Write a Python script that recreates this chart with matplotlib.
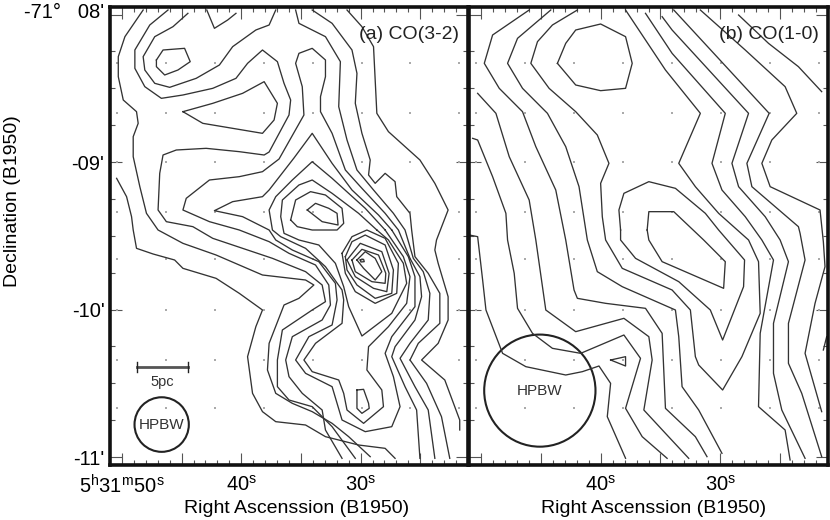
import matplotlib
matplotlib.use("Agg")
import matplotlib.pyplot as plt
from matplotlib.patches import Ellipse
from matplotlib.transforms import ScaledTranslation
import numpy as np

plt.rcParams["font.family"] = ["Liberation Sans", "DejaVu Sans"]
plt.rcParams["mathtext.fontset"] = "custom"
plt.rcParams["mathtext.rm"] = "Liberation Sans"

# Contours, in trace units (3 units = 1 pixel)
# panel (a), CO(3-2)
a_contours = [
    [(50,535),(80,590),(95,650),(100,690),(110,745),(160,762),(225,780),(250,805),(350,835),(420,880),(490,930),(470,980),(445,1070),(460,1180),(490,1235),(530,1265),(620,1275),(680,1310),(780,1335),(860,1345),(890,1375)],
    [(130,30),(75,110),(55,170),(55,230),(70,300),(110,335),(115,370),(100,410),(100,470),(120,560),(140,640),(175,690),(250,730),(350,765),(490,825),(620,840),(645,855),(600,895),(555,915),(510,1030),(505,1110),(530,1180),(580,1210),(640,1235),(700,1270),(750,1310),(815,1370)],
    [(205,30),(150,75),(105,150),(105,205),(135,260),(185,295),(250,285),(340,265),(410,235),(445,190),(490,150),(535,185),(555,250),(575,300),(570,345),(510,456),(495,465),(420,455),(320,445),(230,450),(190,465),(180,520),(175,630),(200,665),(280,680),(340,715),(430,745),(520,775),(620,815),(670,855),(680,905),(640,930),(550,990),(535,1080),(535,1160),(570,1200),(640,1220),(700,1280),(770,1375)],
    [(265,40),(220,80),(165,110),(130,170),(135,210),(165,250),(210,262),(290,235),(360,195),(400,140),(470,90),(510,75),(530,30)],
    [(170,180),(190,150),(255,145),(272,185),(235,210),(195,225),(170,200),(170,180)],
    [(322,30),(345,85),(385,60),(410,40)],
    [(250,335),(340,310),(430,280),(495,245),(535,310),(525,360),(490,400),(400,385),(310,370),(250,335)],
    # finger, left lobe, down to the bottom edge on both sides
    [(730,1375),(680,1290),(670,1230),(610,1180),(570,1130),(560,1080),(580,1010),(670,960),(695,915),(690,855),(650,795),(570,760),(510,725),(420,690),(330,665),(250,630),(260,595),(330,540),(420,530),(490,515),(540,477),(615,345),(610,260),(590,190),(600,160),(640,145),(680,180),(680,230),(665,290),(665,335),(700,400),(740,510),(790,565),(860,640),(900,690),(935,775),(965,830),(970,890),(950,960),(890,1040),(880,1070),(920,1160),(955,1230),(965,1375)],
    # closed around the lower peak
    [(880,690),(930,770),(950,830),(950,920),(880,1010),(860,1060),(885,1130),(905,1220),(880,1280),(800,1295),(730,1260),(700,1160),(620,1120),(590,1080),(630,1010),(700,975),(715,900),(710,850),(660,785),(580,750),(530,720),(510,690),(430,650),(345,632),(400,605),(490,590),(510,570),(585,474),(640,400),(700,490),(760,570),(840,645),(880,690)],
    [(860,690),(915,770),(935,830),(925,910),(870,980),(810,1040),(805,1110),(850,1170),(855,1220),(795,1270),(745,1230),(735,1180),(720,1140),(640,1115),(615,1080),(650,1030),(730,970),(735,900),(730,870),(680,800),(620,745),(545,710),(520,690),(510,630),(530,590),(580,540),(640,485),(700,535),(800,625),(860,690)],
    [(835,690),(780,640),(700,580),(640,540),(600,555),(550,600),(545,650),(555,700),(600,720),(660,735),(710,790),(735,860),(750,920),(790,1008),(880,940),(925,850),(915,790),(870,720),(835,690)],
    [(575,660),(590,600),(635,575),(680,585),(730,625),(735,670),(715,690),(640,690),(595,680),(575,660)],
    [(625,630),(650,610),(690,625),(715,640),(718,675),(670,665),(625,630)],
    [(745,30),(790,80),(825,140),(835,340),(870,395),(965,480),(1010,550),(1050,630),(1015,720),(1010,750),(1020,790),(1050,890),(1050,960),(1020,1030),(970,1080),(1040,1140),(1085,1260),(1085,1290)],
    [(640,30),(700,70),(760,150),(775,220),(770,310),(790,400),(815,480),(810,525),(830,550),(860,520),(890,545),(895,590),(935,640),(940,690),(950,770),(990,820),(1025,880),(1025,970),(960,1030),(935,1080),(985,1150),(1030,1250),(1055,1375)],
    [(590,30),(600,70),(680,110),(725,185),(720,320),(745,420),(775,510),(825,570),(885,640),(920,690),(945,775),(975,815),(995,880),(990,960),(935,1030),(905,1075),(950,1160),(990,1230),(1010,1375)],
    [(775,780),(800,755),(830,775),(850,815),(830,840),(795,805),(775,780)],
    [(760,780),(790,748),(840,765),(862,820),(860,850),(820,845),(770,815),(760,780)],
    [(745,780),(785,730),(850,755),(872,820),(865,875),(825,865),(770,830),(745,780)],
    [(740,770),(760,725),(800,705),(860,735),(885,810),(880,880),(830,895),(775,855),(745,810),(740,770)],
    [(730,760),(760,710),(805,690),(860,715),(900,790),(895,880),(830,910),(770,875),(740,820),(730,760)],
    [(775,1170),(795,1168),(810,1210),(812,1225),(790,1240),(775,1225),(775,1170)],
    [(785,780),(795,778),(797,785),(787,786),(785,780)],
]

# panel (b), CO(1-0)
b_contours = [
    [(275,190),(300,130),(330,90),(405,72),(480,110),(500,190),(480,265),(405,272),(330,255),(275,190)],
    [(545,690),(550,635),(625,635),(715,720),(780,785),(775,865),(590,785),(550,720),(545,690)],
    [(335,30),(260,75),(215,125),(195,190),(250,265),(330,335),(395,405),(430,490),(405,550),(410,650),(420,720),(470,805),(620,870),(675,930),(690,1070),(700,1095),(772,1170),(830,1070),(885,940),(880,785),(850,720),(760,640),(690,560),(640,490),(705,340),(600,210),(560,150),(480,30)],
    [(465,690),(460,630),(475,580),(550,545),(630,565),(720,640),(760,690),(838,780),(835,860),(772,1020),(735,930),(640,845),(510,775),(465,720),(465,690)],
    [(255,30),(155,115),(125,190),(170,265),(245,340),(300,440),(340,560),(365,720),(395,815),(470,860),(630,930),(640,1010),(650,1160),(700,1230),(770,1360)],
    [(540,40),(620,160),(780,340),(740,490),(770,570),(840,650),(890,720),(925,780),(885,1000),(880,1220),(960,1290),(975,1380)],
    [(590,50),(620,90),(850,340),(800,490),(820,560),(900,650),(945,720),(970,785),(925,970),(925,1120),(950,1230),(1020,1375)],
    [(625,30),(912,340),(845,490),(860,560),(1000,680),(1005,700),(1020,780),(970,970),(970,1090),(1010,1180),(1070,1370)],
    [(705,30),(840,150),(960,260),(995,340),(920,420),(890,490),(915,560),(1065,630),(1075,725),(1080,800),(1050,910),(1020,1060),(1070,1235)],
    [(820,45),(910,130),(1000,200),(1070,275)],
    [(1075,1050),(1085,1010)],
    [(20,415),(35,420),(80,530),(120,640),(125,720),(145,820),(155,925),(200,1000),(260,1045),(345,1060),(475,1005),(525,1075),(480,1225),(530,1310),(605,1375)],
    [(35,280),(90,340),(130,470),(190,600),(210,720),(240,930),(330,995),(475,955),(550,1010),(560,1080),(535,1230),(600,1300),(670,1375)],
    [(190,30),(80,105),(55,190),(100,265),(170,335),(210,440),(270,570),(300,720),(325,870),(335,895),(420,910),(540,925),(590,1000),(600,1225),(690,1310),(725,1370)],
    [(10,705),(35,710),(50,840),(60,930),(110,1060),(180,1100),(300,1125),(350,1115),(400,1098),(435,1150),(425,1250),(480,1375)],
    [(435,1080),(480,1070),(480,1098),(435,1080)],
]

# grid of observed points, RA seconds and Dec arcmin
dots_ra = [50.42, 46.32, 42.22, 38.12, 34.02, 29.92, 25.82, 21.72]
dots_dec = [8.33, 8.67, 9.0, 9.34, 9.66, 10.0, 10.34, 10.67]

ra_ticks_major = [50, 45, 40, 35, 30, 25]
ra_labels_a = {50: r"$5^{\rm h}31^{\rm m}50^{\rm s}$", 40: r"$40^{\rm s}$", 30: r"$30^{\rm s}$"}
ra_labels_b = {40: r"$40^{\rm s}$", 30: r"$30^{\rm s}$"}
dec_ticks = [8, 9, 10, 11]
dec_labels = ["-71°   08'", "-09'", "-10'", "-11'"]


def ra_a(u):
    return 50 - (u - 66) / 36.0


def ra_b(u):
    return 50 - (u - 45) / 36.0


def dec(v):
    return 9 + (v - 486) / 442.5


W, H = 830, 520
fig = plt.figure(figsize=(W / 100, H / 100), dpi=100)


def make_panel(x0, x1, y0, y1, trace_ra, labels, title, xlabel_x):
    ax = fig.add_axes([x0 / W, 1 - y1 / H, (x1 - x0) / W, (y1 - y0) / H])
    ax.set_xlim(trace_ra((x0 - 100 if trace_ra is ra_a else x0 - 465) * 3),
                trace_ra((x1 - 100 if trace_ra is ra_a else x1 - 465) * 3))
    ax.set_ylim(dec(y1 * 3), dec(y0 * 3))
    for s in ax.spines.values():
        s.set_linewidth(2.6)
        s.set_color("#111111")
    ax.set_xticks(np.arange(21, 52), minor=True)
    ax.set_xticks(ra_ticks_major)
    ax.set_xticklabels([labels.get(t, "") for t in ra_ticks_major])
    ax.set_yticks(np.arange(8, 11.1, 0.25), minor=True)
    ax.set_yticks(dec_ticks)
    ax.tick_params(which="major", direction="in", length=8.5, width=0.8,
                   top=True, right=True, labelsize=14.5, color="#555555")
    ax.tick_params(axis="x", which="major", pad=7)
    ax.tick_params(axis="y", which="major", pad=4)
    ax.tick_params(which="minor", direction="in", length=3.5, width=0.8,
                   top=True, right=True, color="#555555")
    ax.set_xlabel("Right Ascenssion (B1950)", fontsize=14)
    ax.xaxis.set_label_coords(xlabel_x, -0.076)
    ax.text(0.975, 0.94, title, transform=ax.transAxes, ha="right", va="center",
            fontsize=14, color="#222222")
    return ax


ax_a = make_panel(110, 468, 7, 465, ra_a, ra_labels_a, "(a) CO(3-2)", 0.52)
ax_b = make_panel(469, 828, 7, 465, ra_b, ra_labels_b, "(b) CO(1-0)", 0.513)

ax_a.set_yticklabels(dec_labels)
top_label = ax_a.get_yticklabels()[0]
top_label.set_transform(top_label.get_transform() + ScaledTranslation(0, 3 / 72, fig.dpi_scale_trans))
ax_a.set_ylabel("Declination (B1950)", fontsize=14)
ax_a.yaxis.set_label_coords(-0.25, 0.576)
ax_b.set_yticklabels([])

for ax, contours, conv in ((ax_a, a_contours, ra_a), (ax_b, b_contours, ra_b)):
    xd, yd = np.meshgrid(dots_ra, dots_dec)
    ax.plot(xd.ravel(), yd.ravel(), ls="none", marker="s", ms=1.6, color="#aaaaaa", mew=0)
    for c in contours:
        pts = np.array(c, dtype=float)
        ax.plot(conv(pts[:, 0]), dec(pts[:, 1]), color="#333333", lw=0.95, solid_joinstyle="round")

# scale bar and beam, panel (a)
ax_a.plot([48.75, 44.5], [10.39, 10.39], color="#555555", lw=2)
ax_a.plot([48.75, 48.75], [10.355, 10.425], color="#222222", lw=1)
ax_a.plot([44.5, 44.5], [10.355, 10.425], color="#222222", lw=1)
ax_a.text(46.65, 10.49, "5pc", ha="center", va="center", fontsize=10.5, color="#333333")
ax_a.add_patch(Ellipse((46.67, 10.78), 4.55, 0.37, fill=False, ec="#222222", lw=1.5))
ax_a.text(46.67, 10.78, "HPBW", ha="center", va="center", fontsize=11, color="#333333")

# beam, panel (b)
ax_b.add_patch(Ellipse((45.08, 10.55), 9.3, 0.76, fill=False, ec="#222222", lw=1.5))
ax_b.text(45.08, 10.55, "HPBW", ha="center", va="center", fontsize=11, color="#333333")

fig.savefig("out.png", dpi=100)
